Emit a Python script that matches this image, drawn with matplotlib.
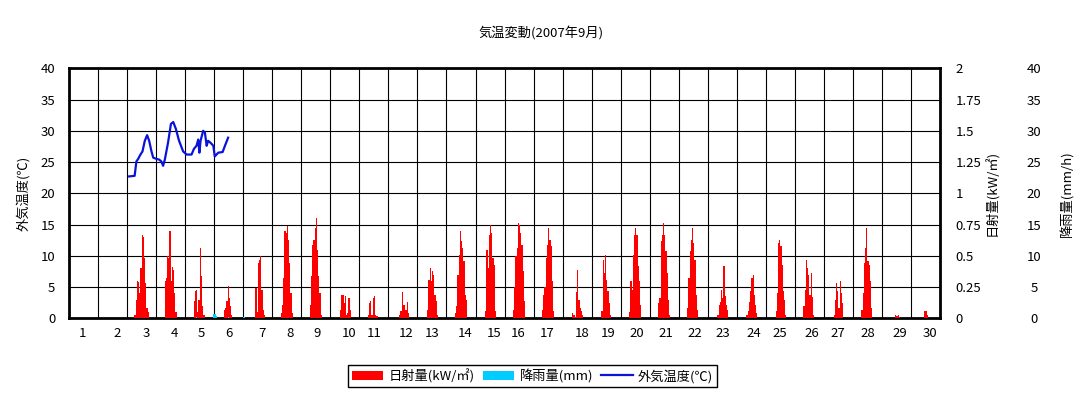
import matplotlib
matplotlib.use("Agg")
import matplotlib.pyplot as plt
from matplotlib.ticker import MultipleLocator, FixedLocator
from matplotlib.patches import Patch
from matplotlib.lines import Line2D

plt.rcParams['font.family'] = ['Noto Sans CJK JP', 'DejaVu Sans']

# hourly solar radiation (kW/m2), hours 6..17 of each day
solar_03 = [0.03, 0.15, 0.30, 0.29, 0.20, 0.40, 0.67, 0.65, 0.48, 0.28, 0.08, 0.05]
solar_04 = [0.00, 0.30, 0.32, 0.50, 0.48, 0.70, 0.30, 0.41, 0.39, 0.20, 0.05, 0.00]
solar_05 = [0.00, 0.14, 0.22, 0.23, 0.05, 0.15, 0.56, 0.34, 0.10, 0.03, 0.00, 0.00]
solar_06 = [0.00, 0.00, 0.07, 0.08, 0.14, 0.26, 0.16, 0.10, 0.03, 0.00, 0.00, 0.00]
solar_07 = [0.00, 0.00, 0.00, 0.00, 0.24, 0.05, 0.44, 0.47, 0.50, 0.23, 0.07, 0.03]
solar_08 = [0.00, 0.04, 0.11, 0.32, 0.70, 0.68, 0.74, 0.63, 0.44, 0.20, 0.04, 0.00]
solar_09 = [0.00, 0.11, 0.34, 0.59, 0.63, 0.72, 0.80, 0.55, 0.34, 0.20, 0.03, 0.00]
solar_10 = [0.00, 0.00, 0.07, 0.19, 0.19, 0.12, 0.18, 0.03, 0.04, 0.16, 0.07, 0.00]
solar_11 = [0.00, 0.03, 0.12, 0.14, 0.03, 0.16, 0.18, 0.03, 0.02, 0.00, 0.00, 0.00]
solar_12 = [0.00, 0.00, 0.00, 0.03, 0.06, 0.21, 0.11, 0.11, 0.07, 0.13, 0.04, 0.00]
solar_13 = [0.00, 0.00, 0.07, 0.31, 0.40, 0.30, 0.38, 0.35, 0.19, 0.14, 0.03, 0.00]
solar_14 = [0.00, 0.04, 0.10, 0.35, 0.51, 0.70, 0.62, 0.56, 0.46, 0.19, 0.15, 0.00]
solar_15 = [0.00, 0.00, 0.06, 0.55, 0.40, 0.67, 0.75, 0.68, 0.48, 0.43, 0.06, 0.00]
solar_16 = [0.00, 0.07, 0.25, 0.50, 0.56, 0.76, 0.75, 0.68, 0.59, 0.38, 0.14, 0.00]
solar_17 = [0.00, 0.07, 0.19, 0.25, 0.48, 0.59, 0.72, 0.63, 0.58, 0.30, 0.06, 0.00]
solar_18 = [0.00, 0.00, 0.04, 0.03, 0.01, 0.21, 0.39, 0.15, 0.08, 0.06, 0.03, 0.00]
solar_19 = [0.00, 0.00, 0.06, 0.47, 0.36, 0.51, 0.31, 0.22, 0.12, 0.03, 0.00, 0.00]
solar_20 = [0.00, 0.05, 0.30, 0.23, 0.51, 0.67, 0.72, 0.67, 0.42, 0.30, 0.11, 0.00]
solar_21 = [0.00, 0.12, 0.16, 0.62, 0.67, 0.76, 0.67, 0.54, 0.36, 0.15, 0.03, 0.00]
solar_22 = [0.00, 0.08, 0.32, 0.54, 0.63, 0.72, 0.60, 0.47, 0.19, 0.07, 0.00, 0.00]
solar_23 = [0.00, 0.00, 0.03, 0.11, 0.13, 0.23, 0.16, 0.42, 0.18, 0.11, 0.07, 0.00]
solar_24 = [0.00, 0.00, 0.03, 0.06, 0.13, 0.22, 0.32, 0.35, 0.19, 0.11, 0.04, 0.00]
solar_25 = [0.00, 0.00, 0.06, 0.20, 0.60, 0.63, 0.58, 0.43, 0.22, 0.15, 0.03, 0.00]
solar_26 = [0.00, 0.10, 0.23, 0.47, 0.40, 0.35, 0.19, 0.36, 0.17, 0.03, 0.00, 0.00]
solar_27 = [0.00, 0.00, 0.03, 0.15, 0.28, 0.22, 0.08, 0.30, 0.20, 0.12, 0.00, 0.00]
solar_28 = [0.00, 0.07, 0.20, 0.44, 0.56, 0.72, 0.46, 0.43, 0.30, 0.08, 0.00, 0.00]
solar_29 = [0.00, 0.00, 0.00, 0.00, 0.00, 0.03, 0.02, 0.03, 0.01, 0.00, 0.00, 0.00]
solar_30 = [0.00, 0.00, 0.00, 0.00, 0.00, 0.06, 0.06, 0.03, 0.00, 0.00, 0.00, 0.00]
solar_hours = [6, 7, 8, 9, 10, 11, 12, 13, 14, 15, 16, 17]

solar_by_day = {3: solar_03, 4: solar_04, 5: solar_05, 6: solar_06, 7: solar_07,
                8: solar_08, 9: solar_09, 10: solar_10, 11: solar_11, 12: solar_12,
                13: solar_13, 14: solar_14, 15: solar_15, 16: solar_16, 17: solar_17,
                18: solar_18, 19: solar_19, 20: solar_20, 21: solar_21, 22: solar_22,
                23: solar_23, 24: solar_24, 25: solar_25, 26: solar_26, 27: solar_27,
                28: solar_28, 29: solar_29, 30: solar_30}

# rainfall (mm), time in days since Sep 1 00:00
rain_day = [4.40, 4.99, 5.03, 5.07, 5.48, 6.00, 6.05]
rain_mm = [0.2, 0.7, 0.7, 0.4, 0.2, 0.2, 0.2]

# outdoor temperature (deg C), time in days since Sep 1 00:00
temp_day = [2.07, 2.26, 2.32, 2.38, 2.46, 2.53, 2.61, 2.69, 2.76, 2.84, 2.90,
            3.01, 3.10, 3.18, 3.24, 3.30, 3.41, 3.51, 3.59, 3.68, 3.79, 3.93,
            4.05, 4.22, 4.30, 4.39, 4.45, 4.49, 4.53, 4.62, 4.68, 4.74, 4.79,
            4.87, 4.97, 5.02, 5.14, 5.29, 5.37, 5.48]
temp_c = [22.7, 22.8, 25.1, 25.5, 26.2, 26.7, 28.4, 29.3, 28.4, 26.7, 25.7,
          25.5, 25.4, 25.1, 24.4, 25.4, 28.1, 31.1, 31.4, 30.3, 28.4, 26.7,
          26.2, 26.2, 27.1, 27.6, 28.6, 26.5, 28.4, 30.0, 29.7, 27.6, 28.4,
          28.1, 27.6, 25.9, 26.5, 26.6, 27.6, 28.9]

day_labels = [str(d) for d in range(1, 31)]
day_label_pos = [0.48, 1.65, 2.65, 3.62, 4.55, 5.51, 6.65, 7.61, 8.54, 9.65,
                 10.51, 11.61, 12.50, 13.64, 14.64, 15.47, 16.47, 17.67, 18.57, 19.57,
                 20.54, 21.56, 22.53, 23.60, 24.49, 25.59, 26.49, 27.52, 28.63, 29.66]

solar_x = []
solar_v = []
for d, vals in solar_by_day.items():
    for h, v in zip(solar_hours, vals):
        solar_x.append(d - 1 + (h + 0.5) / 24)
        solar_v.append(v)

fig = plt.figure(figsize=(10.82, 3.97), dpi=100)
ax = fig.add_axes([0.0638, 0.1982, 0.8050, 0.6298])
ax2 = ax.twinx()
ax3 = ax.twinx()

ax.set_xlim(0, 30)
ax.set_ylim(0, 40)
ax2.set_ylim(0, 2)
ax3.set_ylim(0, 40)

ax.xaxis.set_major_locator(FixedLocator(day_label_pos))
ax.set_xticklabels(day_labels)
ax.xaxis.set_minor_locator(MultipleLocator(1))
ax.yaxis.set_major_locator(MultipleLocator(5))
ax2.set_yticks([0, 0.25, 0.5, 0.75, 1, 1.25, 1.5, 1.75, 2])
ax2.set_yticklabels(['0', '0.25', '0.5', '0.75', '1', '1.25', '1.5', '1.75', '2'])
ax3.yaxis.set_major_locator(MultipleLocator(5))

ax.grid(which='minor', axis='x', color='black', linewidth=0.8)
ax.grid(which='major', axis='y', color='black', linewidth=0.8)
ax.grid(which='major', axis='x', visible=False)
ax.set_axisbelow(True)

for a in (ax, ax2, ax3):
    a.tick_params(which='both', length=0, labelsize=9.5)
ax.tick_params(axis='y', pad=10)
ax.tick_params(axis='x', pad=6)
ax2.tick_params(axis='y', pad=11)
ax3.spines['right'].set_position(('axes', 1.108))
ax3.tick_params(axis='y', pad=0)
for t in ax3.get_yticklabels():
    t.set_horizontalalignment('center')

for s in ax.spines.values():
    s.set_linewidth(2)
for a in (ax2, ax3):
    for s in a.spines.values():
        s.set_visible(False)

ax2.bar(solar_x, solar_v, width=1.0 / 24, color='#ff0000', linewidth=0)
ax3.bar(rain_day, rain_mm, width=1.0 / 24, color='#00ccff', linewidth=0)
ax3.plot(temp_day, temp_c, color='#0a14d8', linewidth=1.6)

ax.set_ylabel('外気温度(℃)', fontsize=9.5)
ax.yaxis.set_label_coords(-0.045, 0.5)
ax2.set_ylabel('日射量(kW/㎡)', fontsize=9.5)
ax2.yaxis.set_label_coords(1.052, 0.5)
ax3.set_ylabel('降雨量(mm/h)', fontsize=9.5)
ax3.yaxis.set_label_coords(1.138, 0.5)

fig.text(0.5, 0.915, '気温変動(2007年9月)', ha='center', va='center', fontsize=9.5)

handles = [Patch(facecolor='#ff0000', edgecolor='none'),
           Patch(facecolor='#00ccff', edgecolor='none'),
           Line2D([0], [0], color='#0a14d8', linewidth=1.6)]
leg = fig.legend(handles, ['日射量(kW/㎡)', '降雨量(mm)', '外気温度(℃)'],
                 loc='center', bbox_to_anchor=(0.492, 0.053), ncol=3,
                 fontsize=9.5, fancybox=False, edgecolor='black', framealpha=1,
                 handlelength=2.4, handleheight=0.7, handletextpad=0.4,
                 columnspacing=0.6, borderpad=0.3)
leg.get_frame().set_linewidth(1)

fig.savefig('out.png', dpi=100)
